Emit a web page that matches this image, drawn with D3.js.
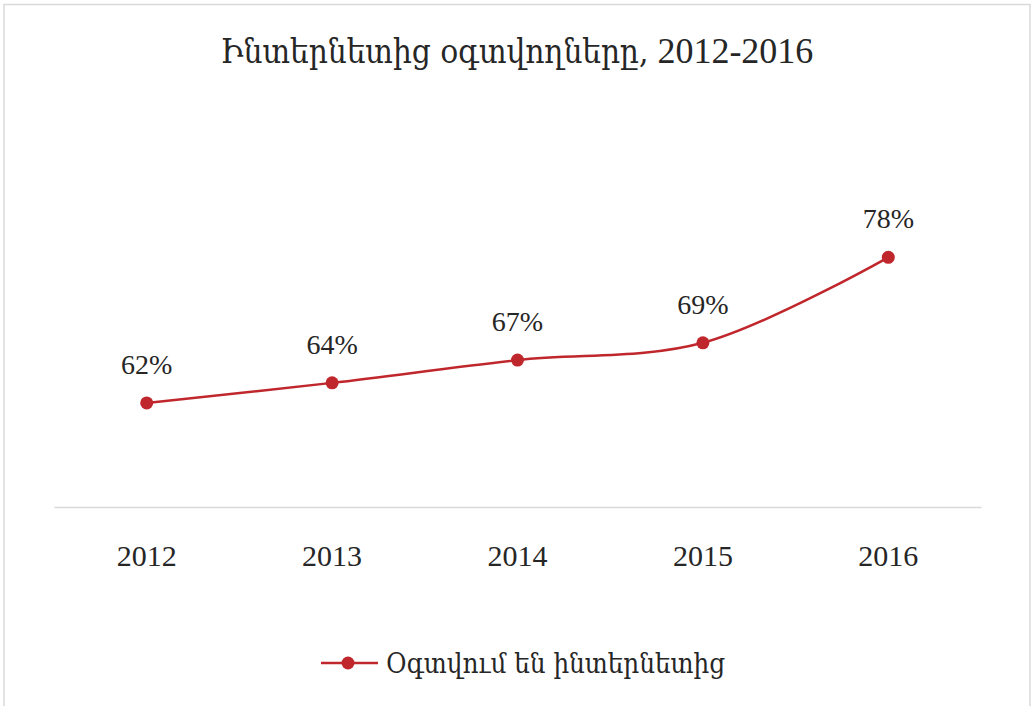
<!DOCTYPE html>
<html>
<head>
<meta charset="utf-8">
<script src="https://cdn.jsdelivr.net/npm/d3@7"></script>
<style>
  html, body { margin: 0; padding: 0; background: #fff; }
  svg { display: block; }
  text { font-family: "Liberation Serif", "DejaVu Serif", serif; fill: #262626; }
  .arm { font-family: "DejaVu Serif", serif; font-stretch: condensed; }
</style>
</head>
<body>
<svg id="chart" width="1032" height="706"></svg>
<script>
const titleArm = "Ինտերնետից օգտվողները,";
const titleNum = " 2012-2016";
const seriesName = "Օգտվում են ինտերնետից";
const years = ["2012", "2013", "2014", "2015", "2016"];
const usersPct = [62.1, 64.3, 66.8, 68.7, 78.1];

const W = 1032, H = 706;
const svg = d3.select("#chart");
const red = "#C0272D";

// outer frame
svg.append("path")
  .attr("d", `M4,${H} V4.5 H1030 V${H}`)
  .attr("fill", "none").attr("stroke", "#d9d9d9").attr("stroke-width", 1.5);

// title
const title = svg.append("text")
  .attr("x", 517).attr("y", 63)
  .attr("text-anchor", "middle")
  .style("font-size", "36px");
title.append("tspan").attr("class", "arm").style("font-size", "33px").text(titleArm);
title.append("tspan").text(titleNum);

const plotLeft = 54, plotRight = 981, plotBottom = 507;

const x = d3.scaleBand().domain(years).range([plotLeft, plotRight]);
const y = d3.scaleLinear().domain([60, 80]).range([422, 240]);

// x axis
const xAxis = svg.append("g")
  .attr("transform", `translate(0,${plotBottom})`)
  .call(d3.axisBottom(x).tickSize(0).tickPadding(0));
xAxis.select(".domain").attr("stroke", "#d9d9d9").attr("stroke-width", 1.5);
xAxis.selectAll("text")
  .attr("dy", null)
  .attr("y", 59)
  .style("font-size", "30px")
  .style("font-family", '"Liberation Serif", "DejaVu Serif", serif')
  .attr("fill", "#262626");

const data = years.map((yr, i) => ({ year: yr, v: usersPct[i] }));
const cx = d => x(d.year) + x.bandwidth() / 2;

const line = d3.line()
  .x(cx)
  .y(d => y(d.v))
  .curve(d3.curveCatmullRom.alpha(0.5));

svg.append("path")
  .datum(data)
  .attr("d", line)
  .attr("fill", "none")
  .attr("stroke", red)
  .attr("stroke-width", 2.5);

svg.selectAll("circle.pt")
  .data(data).enter().append("circle")
  .attr("class", "pt")
  .attr("cx", cx).attr("cy", d => y(d.v))
  .attr("r", 6.5).attr("fill", red);

const fmt = d => d3.format(".0f")(d) + "%";
svg.selectAll("text.lbl")
  .data(data).enter().append("text")
  .attr("class", "lbl")
  .attr("x", cx).attr("y", d => y(d.v) - 29)
  .attr("text-anchor", "middle")
  .style("font-size", "28px")
  .text(d => fmt(d.v));

// legend
const lg = svg.append("g");
lg.append("line").attr("x1", 321).attr("x2", 378).attr("y1", 663).attr("y2", 663)
  .attr("stroke", red).attr("stroke-width", 2.5);
lg.append("circle").attr("cx", 348).attr("cy", 663).attr("r", 6.5).attr("fill", red);
lg.append("text").attr("class", "arm").attr("x", 386).attr("y", 673)
  .style("font-size", "27.5px")
  .text(seriesName);
</script>
</body>
</html>
